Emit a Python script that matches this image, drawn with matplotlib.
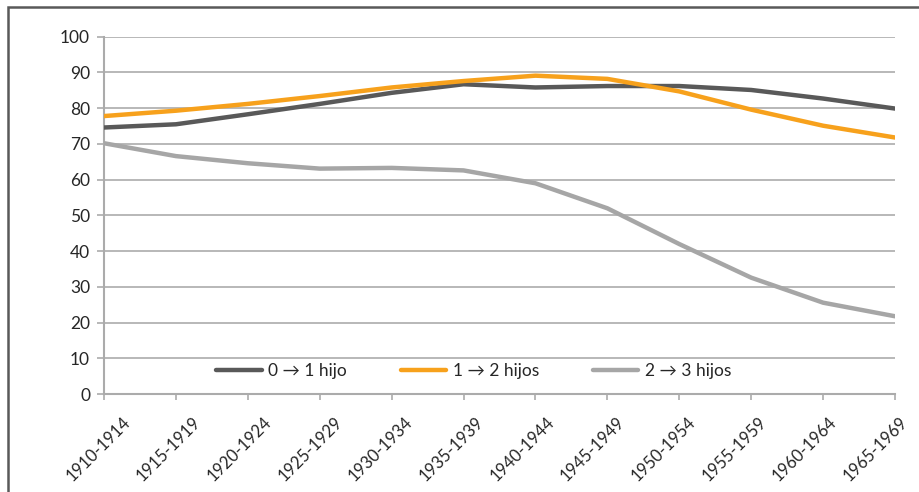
import matplotlib
matplotlib.use("Agg")
import matplotlib.pyplot as plt
import matplotlib.transforms as mtransforms
from matplotlib.patches import Rectangle

categories = ["1910-1914", "1915-1919", "1920-1924", "1925-1929", "1930-1934", "1935-1939",
              "1940-1944", "1945-1949", "1950-1954", "1955-1959", "1960-1964", "1965-1969"]
s01 = [74.6, 75.5, 78.3, 81.2, 84.3, 86.7, 85.8, 86.2, 86.2, 85.1, 82.7, 79.9]
s12 = [77.8, 79.3, 81.2, 83.4, 85.8, 87.6, 89.1, 88.2, 84.7, 79.6, 75.1, 71.8]
s23 = [70.2, 66.6, 64.6, 63.1, 63.3, 62.6, 59.0, 52.0, 42.0, 32.6, 25.6, 21.8]
labels = ["0 \u2192 1 hijo", "1 \u2192 2 hijos", "2 \u2192 3 hijos"]
colors = ["#595959", "#F7A11C", "#A6A6A6"]
yticks = list(range(0, 101, 10))

plt.rcParams['font.family'] = ['Lato', 'DejaVu Sans']

fig = plt.figure(figsize=(9.19, 4.92), dpi=100)
ax = fig.add_axes([104/919, 1-394.2/492, (895-104)/919, (394.2-36.7)/492])

x = list(range(len(categories)))
for vals, lab, c in zip([s01, s12, s23], labels, colors):
    ax.plot(x, vals, color=c, lw=3.2, label=lab, solid_capstyle='round', solid_joinstyle='round', zorder=3)

ax.set_xlim(0, len(categories)-1)
ax.set_ylim(0, 100)
ax.set_yticks(yticks)
ax.set_yticklabels([str(v) for v in yticks], fontsize=12.5, color="#262626")
ax.set_xticks(x)
ax.set_xticklabels([])
n = len(categories)
for i, cat in enumerate(categories):
    dx = (18 - 14 * i / (n - 1)) / 100
    offset = mtransforms.ScaledTranslation(dx, -20/100, fig.dpi_scale_trans)
    ax.text(i, 0, cat, transform=ax.get_xaxis_transform() + offset, rotation=45,
            ha='right', va='top', rotation_mode='anchor', fontsize=12,
            color="#262626", clip_on=False)

ax.grid(axis='y', color="#ABABAB", lw=1.2, zorder=0)
ax.set_axisbelow(True)
for side in ['top', 'right']:
    ax.spines[side].set_visible(False)
for side in ['left', 'bottom']:
    ax.spines[side].set_color("#ABABAB")
    ax.spines[side].set_linewidth(1.5)
ax.tick_params(axis='y', length=5, width=1.2, color="#ABABAB", pad=5)
ax.tick_params(axis='x', length=4, width=1.2, color="#ABABAB", pad=2)

leg = ax.legend(loc='center', bbox_to_anchor=(474/919, 1-371/492), bbox_transform=fig.transFigure,
                ncol=3, frameon=False, fontsize=12.5, handlelength=2.6, columnspacing=3.1,
                handletextpad=0.4)
for t in leg.get_texts():
    t.set_color("#262626")

fig.patches.append(Rectangle((8/919, -0.1), 1.2, 1.1 - 7/492, transform=fig.transFigure,
                             fill=False, edgecolor="#595959", lw=1.8, zorder=10))

fig.savefig("out.png", dpi=100)
